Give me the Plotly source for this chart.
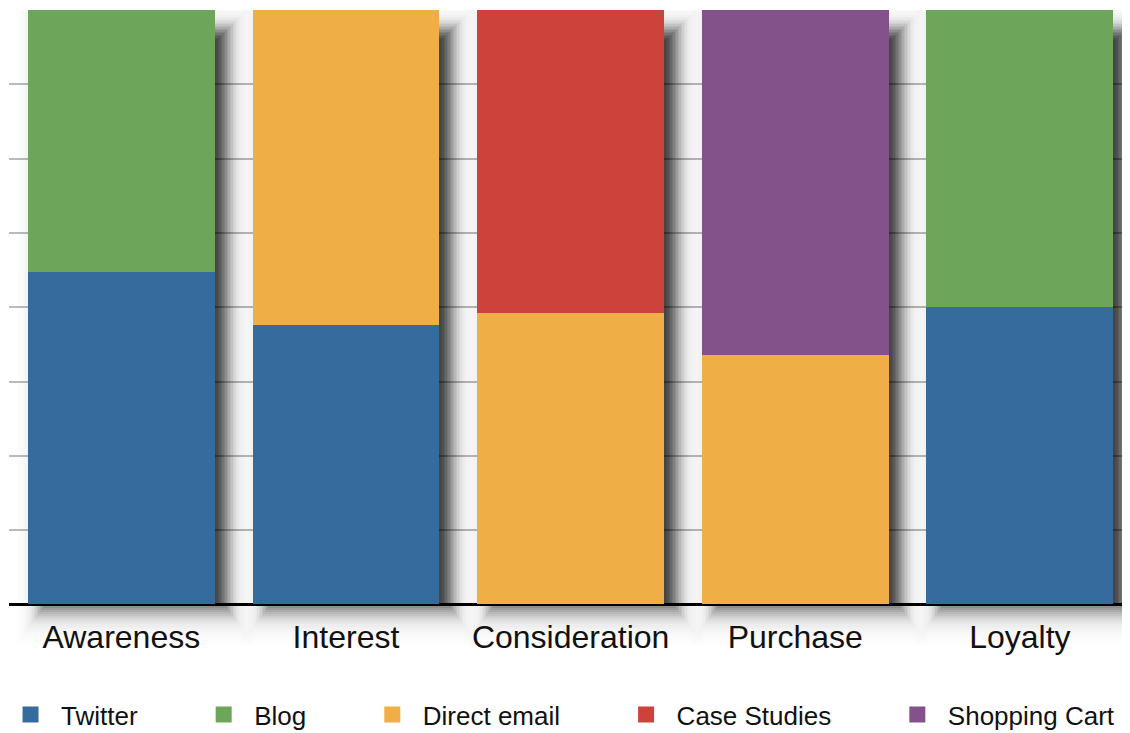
import math
import plotly.graph_objects as go

# ---- data (percent of each funnel stage) ----
categories = ["Awareness", "Interest", "Consideration", "Purchase", "Loyalty"]
twitter = [56, 47, 0, 0, 50]
blog = [44, 0, 0, 0, 50]
direct_email = [0, 53, 49, 42, 0]
case_studies = [0, 0, 51, 0, 0]
shopping_cart = [0, 0, 0, 58, 0]
series_names = ["Twitter", "Blog", "Direct email", "Case Studies", "Shopping Cart"]
series_values = [twitter, blog, direct_email, case_studies, shopping_cart]

# ---- style ----
colors = ["#366B9E", "#6DA55A", "#EFAF46", "#CD423A", "#84528B"]
FONT = "Liberation Sans, Arial, Helvetica, sans-serif"
W, H = 1122, 725          # page body adds an 8px offset
ML, MR, MT, MB = 1, 0, 2, 87
X_RANGE = [-0.5, 4.49]
Y_RANGE = [-7, 100]
BAR_W = 0.832

plot_w = W - ML - MR
plot_h = H - MT - MB
px_x = plot_w / (X_RANGE[1] - X_RANGE[0])   # px per category unit
px_y = plot_h / (Y_RANGE[1] - Y_RANGE[0])   # px per value unit

totals = [sum(v[i] for v in series_values) for i in range(len(categories))]

fig = go.Figure()

# ---- drop shadow: layered translucent rectangles behind each bar ----
STEP, TMAX = 1.5, 40.0


def darkness(t):
    if t >= TMAX:
        return 0.0
    return 0.66 * math.exp(-(t / 16.0) ** 2) + 0.04 * (1 - t / TMAX)


ts = [k * STEP for k in range(int(TMAX / STEP) + 1)]
for i, t in enumerate(ts):
    d_here = darkness(t)
    d_next = darkness(ts[i + 1]) if i + 1 < len(ts) else 0.0
    alpha = 1 - (1 - d_here) / (1 - d_next)
    if alpha <= 0:
        continue
    right_px = t                      # beyond bar's right edge
    left_px = 27 - t                  # inset from bar's left edge
    bottom_px = max(1.4 * t - 13.5, 0)  # below the baseline
    top_px = 32 - t                   # below the bar's top
    offset = -BAR_W / 2 + left_px / px_x
    width = BAR_W + (right_px - left_px) / px_x
    if width <= 0:
        continue
    base = -bottom_px / px_y
    lengths = [tot - top_px / px_y - base for tot in totals]
    fig.add_trace(go.Bar(
        x=categories, y=lengths, base=[base] * len(categories),
        width=width, offset=offset,
        marker=dict(color="rgba(0,0,0,%.4f)" % alpha, line=dict(width=0)),
        showlegend=False, hoverinfo="skip",
    ))

# ---- stacked bars ----
for name, vals, col in zip(series_names, series_values, colors):
    fig.add_trace(go.Bar(
        x=categories, y=vals, name=name, legendgroup=name, showlegend=False,
        width=BAR_W, marker=dict(color=col, line=dict(width=0)),
    ))

# ---- legend entries (square swatches) ----
for name, col in zip(series_names, colors):
    pad = "\u00a0" * 7 if name != series_names[-1] else ""
    fig.add_trace(go.Scatter(
        x=[None], y=[None], mode="markers", name=name + pad, legendgroup=name,
        marker=dict(symbol="square", size=16, color=col, line=dict(width=0)),
        hoverinfo="skip",
    ))

fig.update_layout(
    width=W, height=H,
    margin=dict(l=ML, r=MR, t=MT, b=MB, autoexpand=False),
    barmode="stack",
    paper_bgcolor="white", plot_bgcolor="white",
    font=dict(family=FONT, color="#111111"),
    legend=dict(orientation="h", x=-0.008, xanchor="left", y=-0.108, yanchor="middle",
                itemwidth=51, itemsizing="trace",
                font=dict(size=26, family=FONT, color="#111111"), traceorder="normal"),
    xaxis=dict(type="category", range=X_RANGE, showgrid=False, zeroline=False,
               showline=False, ticks="", tickfont=dict(size=32, family=FONT, color="#111111"),
               ticklabelstandoff=-31),
    yaxis=dict(range=Y_RANGE, tick0=0, dtick=12.5, showticklabels=False, ticks="",
               showgrid=True, gridcolor="#bcbcbc", gridwidth=1.5,
               zeroline=True, zerolinecolor="#000000", zerolinewidth=2.5, showline=False),
)

fig.write_html("out.html")
